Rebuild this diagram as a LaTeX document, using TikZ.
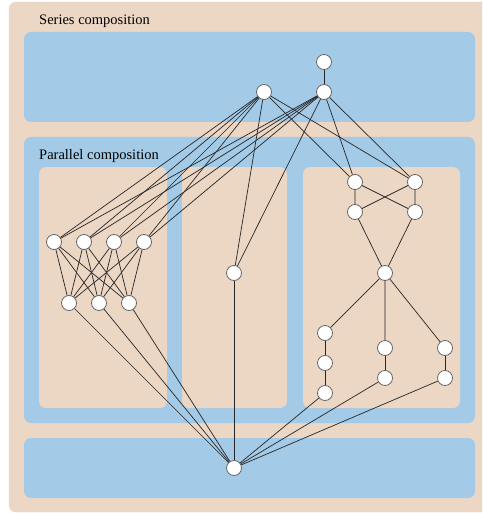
\documentclass[tikz,border=0pt]{standalone}
\usepackage{fontspec}
\setmainfont{Liberation Serif}
\usepackage{tikz}

\definecolor{sand}{RGB}{236,214,196}
\definecolor{sky}{RGB}{163,202,230}

\tikzset{
vtx/.style={circle,draw=black!60,fill=white,minimum size=15pt,inner sep=0pt,line width=0.8pt},
edge/.style={draw=black!85,line width=0.7pt},
panel/.style={rounded corners=7pt},
lbl/.style={anchor=base west,inner sep=0pt,font=\fontsize{14.5}{17}\selectfont}
}

\begin{document}
\begin{tikzpicture}[x=1pt,y=-1pt]
\clip (0,0) rectangle (482,513);
\fill[white] (0,0) rectangle (482,513);
\filldraw[fill=sand,draw=black!12,panel] (9,2) rectangle (500,512);

\fill[sky,panel] (24,32) rectangle (475,122);
\fill[sky,panel] (24,137) rectangle (475,423);
\fill[sky,panel] (24,438) rectangle (475,498);
\foreach \a/\b in {39/167,182/287,303/460}{
\fill[sand,panel] (\a,167) rectangle (\b,408);
}

\node[lbl] (series) at (39,25) {Series composition};
\node[lbl] (parallel) at (39,160) {Parallel composition};

% series part
\node[vtx] (top) at (324,62) {};
\node[vtx] (sb) at (324,92) {};
\node[vtx] (sa) at (264,92) {};
\node[vtx] (sink) at (234,468) {};

% left block
\foreach \i in {1,...,4}{
\node[vtx] (l\i) at (24+30*\i,242) {};
}
\foreach \j in {1,...,3}{
\node[vtx] (m\j) at (39+30*\j,303) {};
}

% middle block
\node[vtx] (mid) at (234,273) {};

% right block
\node[vtx] (r1) at (355,182) {};
\node[vtx] (r2) at (415,182) {};
\node[vtx] (r3) at (355,212) {};
\node[vtx] (r4) at (415,212) {};
\node[vtx] (r5) at (385,273) {};
\node[vtx] (p1) at (325,333) {};
\node[vtx] (p2) at (325,363) {};
\node[vtx] (p3) at (325,393) {};
\node[vtx] (q1) at (385,348) {};
\node[vtx] (q2) at (385,378) {};
\node[vtx] (s1) at (445,348) {};
\node[vtx] (s2) at (445,378) {};

\draw[edge] (top)--(sb);
\foreach \s in {sa,sb}{
\foreach \t in {l1,l2,l3,l4,mid,r1,r2}{
\draw[edge] (\s)--(\t);
}
}

\foreach \i in {1,...,4}{
\foreach \j in {1,...,3}{
\draw[edge] (l\i)--(m\j);
}
}

\draw[edge] (r1)--(r3) (r2)--(r4) (r1)--(r4) (r2)--(r3);
\draw[edge] (r3)--(r5) (r4)--(r5);
\draw[edge] (r5)--(p1) (r5)--(q1) (r5)--(s1);
\draw[edge] (p1)--(p2) (p2)--(p3) (q1)--(q2) (s1)--(s2);

\foreach \t in {m1,m2,m3,mid,p3,q2,s2}{
\draw[edge] (\t)--(sink);
}
\end{tikzpicture}
\end{document}
